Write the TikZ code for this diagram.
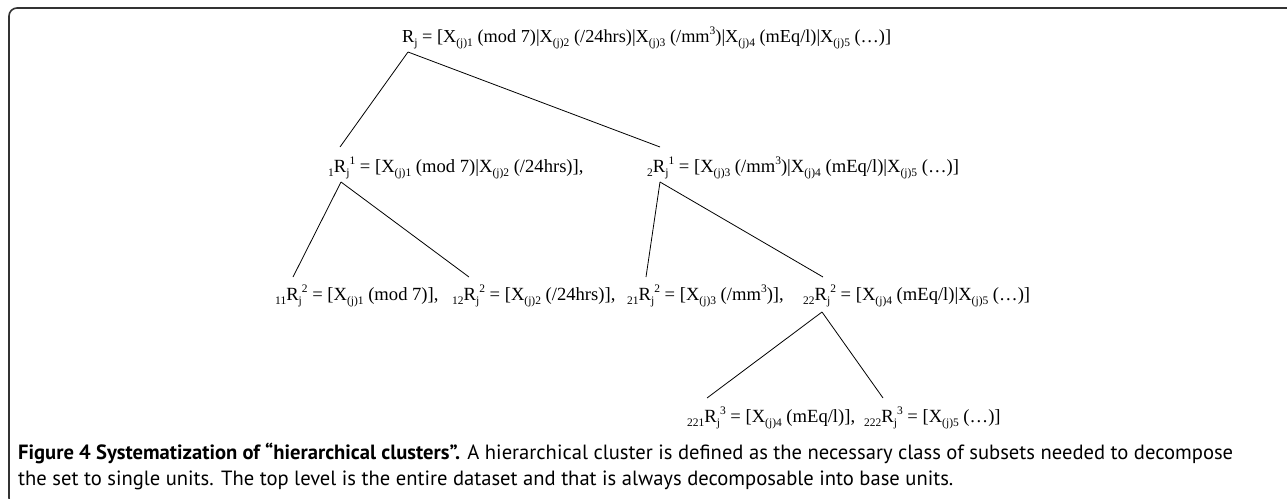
\documentclass[tikz,border=0pt]{standalone}
\usepackage{fontspec}
\setmainfont{Liberation Serif}
\newfontfamily\capfont{PT Sans}
\usetikzlibrary{calc}
\newcommand\lo[1]{\raisebox{-0.24em}{\fontsize{11.5pt}{12pt}\selectfont #1}}
\newcommand\hi[1]{\raisebox{0.42em}{\fontsize{11.5pt}{12pt}\selectfont #1}}
\tikzset{
  lbl/.style={anchor=base west, inner sep=0pt, font=\fontsize{18.6pt}{22pt}\selectfont},
  toplbl/.style={lbl, font=\fontsize{18.3pt}{22pt}\selectfont},
  captext/.style={anchor=base west, inner sep=0pt, font=\capfont\fontsize{20.6pt}{24pt}\selectfont},
  branch/.style={draw=black, line width=0.8pt},
  framestyle/.style={draw=black!80, line width=1.6pt, rounded corners=8pt}
}
\begin{document}
\begin{tikzpicture}[x=1pt,y=-1pt]
\useasboundingbox (0,0) rectangle (1287,498);
\draw[framestyle] (1300,8) -- (9,8) -- (9,506) -- (1300,506);

\node[toplbl] (top) at (402,42) {R\lo{j} = [X\lo{(j)1} (mod 7)|X\lo{(j)2} (/24hrs)|X\lo{(j)3} (/mm\hi{3})|X\lo{(j)4} (mEq/l)|X\lo{(j)5} (…)]};

\node[lbl] (a) at (328,172) {\lo{1}R\lo{j}\hi{1} = [X\lo{(j)1} (mod 7)|X\lo{(j)2} (/24hrs)],};
\node[lbl] (b) at (647,172) {\lo{2}R\lo{j}\hi{1} = [X\lo{(j)3} (/mm\hi{3})|X\lo{(j)4} (mEq/l)|X\lo{(j)5} (…)]};

\node[lbl] (aa) at (275,300) {\lo{11}R\lo{j}\hi{2} = [X\lo{(j)1} (mod 7)],};
\node[lbl] (ab) at (452,300) {\lo{12}R\lo{j}\hi{2} = [X\lo{(j)2} (/24hrs)],};
\node[lbl] (ba) at (627,300) {\lo{21}R\lo{j}\hi{2} = [X\lo{(j)3} (/mm\hi{3})],};
\node[lbl] (bb) at (803,300) {\lo{22}R\lo{j}\hi{2} = [X\lo{(j)4} (mEq/l)|X\lo{(j)5} (…)]};

\node[lbl] (bba) at (687,422) {\lo{221}R\lo{j}\hi{3} = [X\lo{(j)4} (mEq/l)],};
\node[lbl] (bbb) at (864,422) {\lo{222}R\lo{j}\hi{3} = [X\lo{(j)5} (…)]};

% connectors
\draw[branch] ($(top.base west)+(6,10)$) -- ($(a.base west)+(12,-25)$);
\draw[branch] ($(top.base west)+(6,10)$) -- ($(b.base west)+(13,-25)$);
\draw[branch] ($(a.base west)+(13,10)$) -- ($(aa.base west)+(18,-23)$);
\draw[branch] ($(a.base west)+(13,10)$) -- ($(ab.base west)+(17,-23)$);
\draw[branch] ($(b.base west)+(13,10)$) -- ($(ba.base west)+(19,-23)$);
\draw[branch] ($(b.base west)+(13,10)$) -- ($(bb.base west)+(20,-23)$);
\draw[branch] ($(bb.base west)+(19,12)$) -- ($(bba.base west)+(20,-24)$);
\draw[branch] ($(bb.base west)+(19,12)$) -- ($(bbb.base west)+(19,-24)$);

\node[captext] (cap1) at (18,459) {\textbf{Figure 4 Systematization of “hierarchical clusters”.} A hierarchical cluster is defined as the necessary class of subsets needed to decompose};
\node[captext] (cap2) at (18,485) {the set to single units. The top level is the entire dataset and that is always decomposable into base units.};
\end{tikzpicture}
\end{document}
